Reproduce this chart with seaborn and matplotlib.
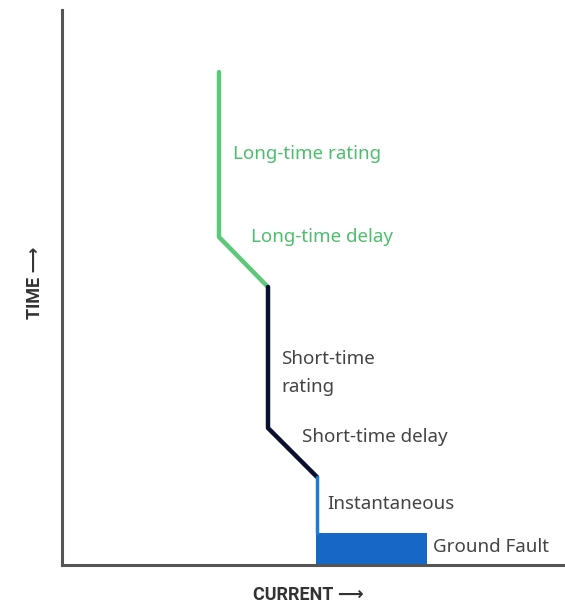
import matplotlib
matplotlib.use("Agg")
import matplotlib.pyplot as plt
import seaborn as sns

# curva tiempo-corriente (coordenadas en unidades del dibujo)
long_time_x = [219, 219, 268]
long_time_y = [531, 366, 316]
short_time_x = [268, 268, 317]
short_time_y = [316, 175, 126]
inst_x = [317, 317]
inst_y = [126, 70]
ground_x0, ground_x1 = 316, 427
ground_top = 70

etiquetas = ["Long-time rating", "Long-time delay", "Short-time\nrating",
             "Short-time delay", "Instantaneous", "Ground Fault"]
etiquetas_x = [233, 251, 281, 302, 327, 433]
etiquetas_y = [449, 366, 230, 166, 99, 56]
etiquetas_color = ["#4cbf6c", "#4cbf6c", "#444444", "#444444", "#444444", "#444444"]

sns.set_style("white")
plt.rcParams["font.family"] = ["Noto Sans", "DejaVu Sans"]

fig = plt.figure(figsize=(5.65, 6.03), dpi=100)
ax = fig.add_axes([62 / 565, 38 / 603, 503 / 565, 555 / 603])
ax.set_xlim(62, 565)
ax.set_ylim(38, 593)

sns.lineplot(x=long_time_x, y=long_time_y, sort=False, estimator=None,
             color="#5cc879", linewidth=3.2, ax=ax)
sns.lineplot(x=short_time_x, y=short_time_y, sort=False, estimator=None,
             color="#0b1030", linewidth=3.2, ax=ax)
sns.lineplot(x=inst_x, y=inst_y, sort=False, estimator=None,
             color="#1f7ad4", linewidth=2.5, ax=ax)
ax.bar(ground_x0, ground_top - 38, bottom=38, width=ground_x1 - ground_x0,
       align="edge", color="#1768c6", edgecolor="none")

for t, x, y, c in zip(etiquetas, etiquetas_x, etiquetas_y, etiquetas_color):
    ax.text(x, y, t, color=c, fontsize=13.5, va="center", ha="left",
            linespacing=1.75)

for lado in ["top", "right"]:
    ax.spines[lado].set_visible(False)
for lado in ["left", "bottom"]:
    ax.spines[lado].set_color("#555555")
    ax.spines[lado].set_linewidth(2.2)
ax.set_xticks([])
ax.set_yticks([])

fig.text(253 / 565, 1 - 595 / 603, "CURRENT ⟶", fontsize=13, fontweight="bold",
         family=["Roboto", "DejaVu Sans"], color="#333333", va="center", ha="left")
fig.text(35 / 565, 1 - 283 / 603, "TIME ⟶", fontsize=13, fontweight="bold",
         family=["Roboto", "DejaVu Sans"], color="#333333", va="center", ha="center",
         rotation=90)

fig.savefig("out.png", dpi=100)
